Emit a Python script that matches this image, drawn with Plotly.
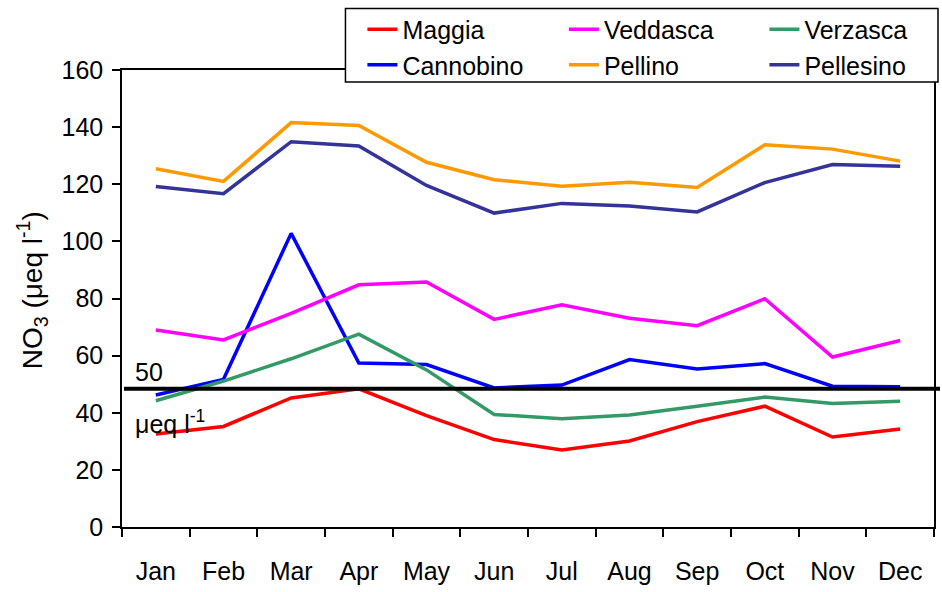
import plotly.graph_objects as go

months = ["Jan", "Feb", "Mar", "Apr", "May", "Jun", "Jul", "Aug", "Sep", "Oct", "Nov", "Dec"]

maggia = [32.6, 35.2, 45.2, 48.4, 39.0, 30.6, 27.0, 30.1, 36.9, 42.3, 31.5, 34.3]
veddasca = [69.0, 65.5, 74.8, 84.8, 85.8, 72.7, 77.8, 73.1, 70.5, 79.9, 59.5, 65.3]
verzasca = [44.2, 51.1, 58.9, 67.5, 55.0, 39.4, 37.9, 39.2, 42.3, 45.5, 43.2, 44.0]
cannobino = [46.2, 51.7, 102.8, 57.4, 56.9, 48.7, 49.7, 58.6, 55.3, 57.2, 49.3, 49.1]
pellino = [125.4, 121.0, 141.6, 140.6, 127.7, 121.6, 119.3, 120.7, 118.9, 133.8, 132.3, 128.1]
pellesino = [119.2, 116.7, 134.9, 133.4, 119.6, 109.9, 113.3, 112.4, 110.3, 120.6, 126.9, 126.3]

threshold = 48.4

series = [
    ("Maggia", maggia, "#FF0000", "legend"),
    ("Cannobino", cannobino, "#0000FF", "legend"),
    ("Veddasca", veddasca, "#FF00FF", "legend2"),
    ("Pellino", pellino, "#FF9900", "legend2"),
    ("Verzasca", verzasca, "#339966", "legend3"),
    ("Pellesino", pellesino, "#333399", "legend3"),
]

FONT = "Liberation Sans, Arial, sans-serif"
FS = 25
W, H = 942, 592
L, T = 122, 66
PW, PH = 814, 461
R = W - L - PW
B = H - T - PH


def px(x):
    """page x (pixels) -> paper x"""
    return (x - L) / PW


def py(y):
    """page y (pixels) -> paper y"""
    return (T + PH - y) / PH


fig = go.Figure()
for name, vals, color, lg in series:
    fig.add_trace(go.Scatter(
        x=months, y=vals, mode="lines", name=name,
        line=dict(color=color, width=3.5),
        legend=lg, hoverinfo="skip",
    ))

fig.add_shape(type="line", xref="paper", yref="y",
              x0=px(124), x1=px(942), y0=threshold, y1=threshold,
              line=dict(color="black", width=4), layer="above")

# legend box
fig.add_shape(type="rect", xref="paper", yref="paper",
              x0=px(346), x1=px(940), y0=py(78), y1=py(4),
              line=dict(color="black", width=1.5), fillcolor="white", layer="above")

leg_common = dict(font=dict(family=FONT, size=FS, color="black"),
                  bgcolor="rgba(0,0,0,0)", borderwidth=0,
                  orientation="v", xanchor="left", yanchor="top",
                  itemclick=False, itemdoubleclick=False)

fig.update_layout(
    width=W, height=H,
    margin=dict(l=L, r=R, t=T, b=B),
    paper_bgcolor="white", plot_bgcolor="white",
    font=dict(family=FONT, size=FS, color="black"),
    showlegend=True,
    legend=dict(x=px(363), y=py(2), **leg_common),
    legend2=dict(x=px(565), y=py(2), **leg_common),
    legend3=dict(x=px(766), y=py(2), **leg_common),
    xaxis=dict(
        type="category", range=[-0.5, 11.5],
        showline=True, linecolor="black", linewidth=1.5, mirror=True,
        ticks="outside", tickson="boundaries", ticklen=8, tickcolor="black", tickwidth=1.5,
        showgrid=False, zeroline=False,
        tickfont=dict(family=FONT, size=FS, color="black"),
        ticklabelstandoff=21,
    ),
    yaxis=dict(
        range=[0, 160], dtick=20,
        showline=True, linecolor="black", linewidth=1.5, mirror=True,
        ticks="outside", ticklen=8, tickcolor="black", tickwidth=1.5,
        showgrid=False, zeroline=False,
        tickfont=dict(family=FONT, size=FS, color="black"),
        ticklabelstandoff=4,
    ),
    annotations=[
        dict(text="NO<sub>3</sub> (μeq l<sup>-1</sup>)", textangle=-90,
             xref="paper", yref="paper", x=px(32), y=py(288),
             xanchor="center", yanchor="middle", showarrow=False,
             font=dict(family=FONT, size=28, color="black")),
        dict(text="50", xref="paper", yref="paper", x=px(133), y=py(371),
             xanchor="left", yanchor="middle", showarrow=False,
             font=dict(family=FONT, size=FS, color="black")),
        dict(text="μeq l<sup>-1</sup>", xref="paper", yref="paper", x=px(133), y=py(421),
             xanchor="left", yanchor="middle", showarrow=False,
             font=dict(family=FONT, size=FS, color="black")),
    ],
)

# remove the default 8px page margin so the figure sits at the window origin
fig.write_html("out.html", config={"displayModeBar": False},
               post_script="document.body.style.margin='0';")
